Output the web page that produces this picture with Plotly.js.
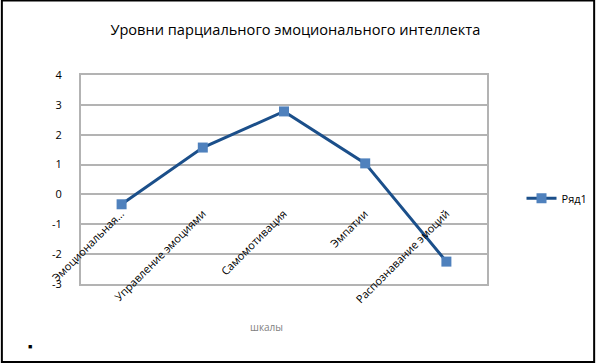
<!DOCTYPE html>
<html>
<head>
<meta charset="utf-8">
<script src="https://cdn.plot.ly/plotly-3.0.1.min.js"></script>
<style>
html,body{margin:0;padding:0;background:#fff;}
#chart{width:604px;height:363px;}
</style>
</head>
<body>
<div id="chart"></div>
<script>
const categories = ["Эмоциональная...", "Управление эмоциями", "Самомотивация", "Эмпатии", "Распознавание эмоций"];
const values = [-0.33, 1.57, 2.78, 1.04, -2.25];
const seriesName = "Ряд1";
const chartTitle = "Уровни парциального эмоционального интеллекта";
const xTitle = "шкалы";
const yTickVals = [-3, -2, -1, 0, 1, 2, 3, 4];

const FONT = "Open Sans, Noto Sans, sans-serif";

const trace = {
  x: categories,
  y: values,
  type: "scatter",
  mode: "lines+markers",
  name: seriesName,
  line: {color: "#1b4f8a", width: 3},
  marker: {symbol: "square", size: 10, color: "#4f81bd", line: {width: 0}}
};

const catAnnotations = categories.map(c => ({
  x: c, y: 0, xref: "x", yref: "y",
  text: c, showarrow: false, textangle: -45,
  xanchor: "right", yanchor: "top", xshift: 8, yshift: -9,
  font: {family: FONT, size: 11, color: "#000"}
}));

const layout = {
  width: 604, height: 363,
  margin: {l: 81, r: 110, t: 75, b: 79},
  paper_bgcolor: "#fff", plot_bgcolor: "#fff",
  font: {family: FONT, size: 11, color: "#000"},
  title: {
    text: chartTitle, x: 0.489, xref: "container", xanchor: "center",
    y: 0.917, yref: "container", yanchor: "middle",
    font: {family: FONT, size: 14.6, color: "#000"}
  },
  xaxis: {
    type: "category", range: [-0.5, 4.5],
    showticklabels: false, ticks: "",
    showgrid: false, zeroline: false,
    showline: true, linecolor: "#b3b3b3", linewidth: 2, mirror: true,
    fixedrange: true
  },
  yaxis: {
    range: [-3, 4], tickvals: yTickVals, ticktext: yTickVals.map(String),
    showgrid: true, gridcolor: "#b3b3b3", gridwidth: 2,
    zeroline: false, ticks: "", ticklabelstandoff: 15,
    showline: true, linecolor: "#b3b3b3", linewidth: 2, mirror: true,
    tickfont: {family: FONT, size: 11, color: "#000"},
    fixedrange: true
  },
  showlegend: true,
  legend: {
    x: 1.085, y: 0.41, xanchor: "left", yanchor: "middle",
    font: {family: FONT, size: 11, color: "#000"},
    bgcolor: "rgba(0,0,0,0)", itemwidth: 30
  },
  annotations: catAnnotations.concat([
    {x: 0.458, y: -0.206, xref: "paper", yref: "paper", text: xTitle, showarrow: false,
     xanchor: "center", yanchor: "middle", font: {family: FONT, size: 10, color: "#7f7f7f"}},
    {x: -0.126, y: -0.297, xref: "paper", yref: "paper", text: "■", showarrow: false,
     xanchor: "center", yanchor: "middle", font: {size: 7, color: "#000"}}
  ]),
  shapes: [
    {type: "rect", xref: "paper", yref: "paper",
     x0: -81/413 + 0.5/413, x1: 1 + 109/413, y0: -78/209, y1: 1 + 74.5/209,
     line: {color: "#000", width: 2}, layer: "above"}
  ]
};

Plotly.newPlot("chart", [trace], layout, {displayModeBar: false, staticPlot: true});
</script>
</body>
</html>
